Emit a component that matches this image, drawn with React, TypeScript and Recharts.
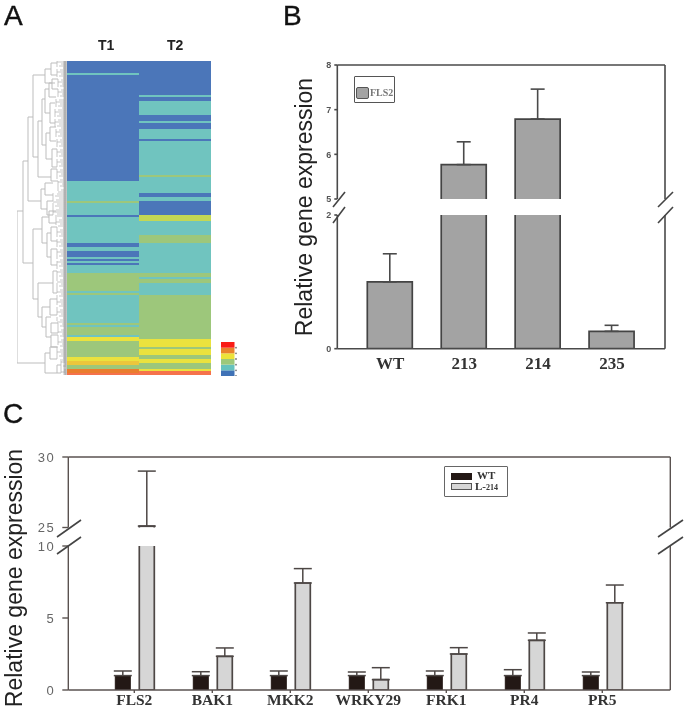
import React from "react";
import {
  Bar,
  BarChart,
  Cell,
  ErrorBar,
  Line,
  LineChart,
  XAxis,
  YAxis,
} from "recharts";

const SANS = '"Liberation Sans", Arial, sans-serif';
const SERIF = '"Liberation Serif", "Times New Roman", serif';

// ---------- Panel A: heat map ----------
const heatColors: Record<string, string> = {
  blue: "#4b76b9",
  teal: "#70c4bf",
  lime: "#c3d755",
  green: "#9dc77b",
  yellow: "#ebe23e",
  gold: "#ecc63c",
  orange: "#ea7d2e",
  coral: "#f5724c",
};
const heatScale = ["#3f72b6", "#66c2bd", "#9dc87a", "#ece23a", "#e9832c", "#f91c16"];
const heatScaleTicks = [0, 1, 2, 3, 4, 5];
const columns = ["T1", "T2"];
const t1Runs: [string, number][] = [
  ["blue", 6], ["teal", 1], ["blue", 53], ["teal", 10], ["green", 1], ["teal", 6], ["blue", 1],
  ["teal", 13], ["blue", 2], ["teal", 2], ["blue", 3], ["teal", 1], ["blue", 1], ["teal", 1],
  ["blue", 1], ["teal", 4], ["green", 9], ["teal", 1], ["green", 1], ["teal", 14], ["green", 1],
  ["teal", 1], ["green", 4], ["teal", 1], ["yellow", 2], ["green", 8], ["yellow", 2], ["gold", 2],
  ["green", 2], ["orange", 2], ["coral", 1],
];
const t2Runs: [string, number][] = [
  ["blue", 17], ["teal", 1], ["blue", 2], ["teal", 7], ["blue", 3], ["teal", 1], ["blue", 3],
  ["teal", 5], ["blue", 1], ["teal", 17], ["green", 1], ["teal", 8], ["blue", 2], ["teal", 2],
  ["blue", 7], ["lime", 3], ["teal", 7], ["green", 4], ["teal", 15], ["green", 2], ["teal", 1],
  ["green", 2], ["teal", 6], ["green", 22], ["yellow", 4], ["green", 1], ["yellow", 3],
  ["green", 2], ["yellow", 2], ["green", 3], ["yellow", 1], ["coral", 2],
];
const expandRuns = (runs: [string, number][]) =>
  runs.flatMap(([level, count]) => Array.from({ length: count }, () => level));
const t1Rows = expandRuns(t1Runs);
const t2Rows = expandRuns(t2Runs);
const heatRows = t1Rows.map((_, i) => ({ row: i, T1: 1, T2: 1 }));
const scaleRow = [{ key: "scale", s0: 1, s1: 1, s2: 1, s3: 1, s4: 1, s5: 1 }];

// Dendrogram: [depth, top row, bottom row, depth of top child, depth of bottom child]
const branches: number[][] = [
  [0, 75, 151, 6, 28], [6, 50, 101, 11, 16], [11, 28, 70, 16, 24], [16, 7, 48, 28, 21],
  [28, 4, 11, 34, 35], [34, 1, 7, 40, 40], [35, 9, 14, 41, 41],
  [21, 30, 58, 25, 34], [25, 19, 42, 28, 29], [28, 14, 26, 32, 33], [32, 11, 18, 38, 39],
  [33, 21, 31, 38, 38], [29, 36, 49, 33, 35], [33, 33, 40, 39, 39], [35, 44, 53, 40, 40],
  [34, 54, 60, 40, 41], [24, 64, 74, 28, 30], [28, 61, 67, 36, 36], [30, 70, 77, 36, 36],
  [16, 84, 119, 25, 21], [25, 78, 91, 32, 30], [32, 75, 81, 39, 39], [30, 86, 98, 34, 34],
  [34, 83, 90, 40, 40], [34, 94, 102, 40, 40],
  [21, 111, 128, 36, 25], [36, 105, 116, 40, 40], [25, 123, 133, 33, 29], [33, 119, 127, 40, 40],
  [29, 128, 138, 34, 34], [34, 131, 136, 41, 41], [34, 137, 143, 41, 41],
  [28, 146, 156, 33, 40], [33, 143, 149, 40, 40], [40, 152, 156, 44, 44],
];
// Leaf fans: [depth, first row, last row]
const fans: number[][] = [
  [40, 0, 3], [40, 4, 8], [41, 9, 13], [41, 14, 18], [39, 19, 23], [38, 24, 28], [38, 29, 33],
  [39, 34, 38], [40, 39, 43], [40, 44, 48], [40, 49, 53], [40, 54, 59], [41, 60, 65], [36, 66, 70],
  [36, 71, 77], [39, 78, 82], [40, 83, 88], [40, 89, 93], [40, 94, 99], [40, 100, 104],
  [40, 105, 110], [40, 111, 116], [40, 117, 122], [40, 123, 127], [40, 128, 130], [41, 131, 136],
  [41, 137, 142], [40, 143, 149], [44, 150, 156],
];
const stubSteps = [0, 4, 2, 6, 3];
const dendroPoints: { d: number; r: number | null }[] = [];
branches.forEach(([d, top, bot, dTop, dBot]) => {
  dendroPoints.push(
    { d: dTop, r: top }, { d, r: top }, { d, r: bot }, { d: dBot, r: bot }, { d: dBot, r: null },
  );
});
const leafPoints: { d: number; r: number | null }[] = [];
const tipPoints: { d: number; r: number | null }[] = [];
fans.forEach(([d, first, last]) => {
  leafPoints.push({ d, r: first }, { d, r: last }, { d, r: null });
  for (let row = first; row <= last; row += 1) {
    const start = d + stubSteps[row % stubSteps.length];
    leafPoints.push({ d: start, r: row + 0.5 }, { d: 49.5, r: row + 0.5 }, { d: 49.5, r: null });
    tipPoints.push({ d: 46.5, r: row + 0.5 }, { d: 49.8, r: row + 0.5 }, { d: 49.8, r: null });
  }
});

// ---------- Panel B ----------
const bLines = ["WT", "213", "214", "235"];
const bValues = [1.0, 5.77, 6.79, 0.26];
const bErrors = [0.42, 0.51, 0.67, 0.09];
const bUpperTicks = [5, 6, 7, 8];
const bLowerTicks = [0, 2];
const bUpperDomain: [number, number] = [5, 8];
const bLowerDomain: [number, number] = [0, 2];

// ---------- Panel C ----------
const cGenes = ["FLS2", "BAK1", "MKK2", "WRKY29", "FRK1", "PR4", "PR5"];
const cWT = [1.0, 1.0, 1.0, 1.0, 1.0, 1.0, 1.0];
const cWTErr = [0.32, 0.27, 0.32, 0.25, 0.32, 0.41, 0.25];
const cL214 = [25.1, 2.34, 7.43, 0.72, 2.5, 3.45, 6.06];
const cL214Err = [3.9, 0.58, 1.0, 0.83, 0.44, 0.51, 1.23];
const cUpperTicks = [25, 30];
const cLowerTicks = [0, 5, 10];
const cUpperDomain: [number, number] = [25, 30];
const cLowerDomain: [number, number] = [0, 10];

// Each panel of a broken axis only holds what falls inside its range.
const upperBar = (v: number, floor: number) => (v > floor ? [floor - 2, v] : null);
const upperErr = (v: number, e: number, floor: number) => (v > floor ? [0, e] : null);
const lowerErr = (v: number, e: number, ceil: number) => (v < ceil ? [0, e] : null);

const bUpperData = bLines.map((name, i) => ({
  name,
  value: upperBar(bValues[i], 5),
  err: upperErr(bValues[i], bErrors[i], 5),
}));
const bLowerData = bLines.map((name, i) => ({
  name,
  value: bValues[i],
  err: lowerErr(bValues[i], bErrors[i], 2),
}));
const cUpperData = cGenes.map((name, i) => ({
  name,
  wt: null,
  l214: upperBar(cL214[i], 25),
  l214Err: upperErr(cL214[i], cL214Err[i], 25),
}));
const cLowerData = cGenes.map((name, i) => ({
  name,
  wt: cWT[i],
  wtErr: [0, cWTErr[i]],
  l214: cL214[i],
  l214Err: lowerErr(cL214[i], cL214Err[i], 10),
}));

const abs = (left: number, top: number): React.CSSProperties => ({ position: "absolute", left, top });

const ScaleDot = (p: any) => <circle cx={p.x + 1} cy={p.y} r={0.9} fill="#777" />;

const Title = ({ x, y }: { x: number; y: number }) => (
  <div
    style={{
      ...abs(x, y),
      transform: "translate(-50%,-50%) rotate(-90deg)",
      whiteSpace: "nowrap",
      fontFamily: SANS,
      fontSize: 23,
      lineHeight: 1,
      color: "#222",
    }}
  >
    Relative gene expression
  </div>
);

const Letter = ({ x, y, t }: { x: number; y: number; t: string }) => (
  <div style={{ ...abs(x, y), fontFamily: SANS, fontSize: 28, color: "#111", WebkitTextStroke: "0.4px #111" }}>{t}</div>
);

const Slash = ({ x1, x2, y1, y2 }: { x1: number; x2: number; y1: number; y2: number }) => (
  <line x1={x1} x2={x2} y1={y1} y2={y2} stroke="#444" strokeWidth={1.6} />
);

const B_AXIS = "#4a4a4a";
const C_AXIS = "#5a5250";
const C_TICK = { fontFamily: SANS, fontSize: 13, fill: "#666", letterSpacing: 1.6 };
const B_TICK = { fontFamily: SANS, fontSize: 9, fontWeight: 700, fill: "#555" };

export default function App() {
  return (
    <div
      style={{
        position: "absolute",
        left: 0,
        top: 0,
        width: 685,
        height: 710,
        overflow: "hidden",
        background: "#fff",
        filter: "blur(0.5px)",
      }}
    >
      <Letter x={4} y={0} t="A" />
      <Letter x={283} y={0} t="B" />
      <Letter x={3} y={398} t="C" />

      {/* Panel A */}
      <div style={{ ...abs(98, 37), fontFamily: SANS, fontSize: 14, fontWeight: 700, color: "#222" }}>T1</div>
      <div style={{ ...abs(167, 37), fontFamily: SANS, fontSize: 14, fontWeight: 700, color: "#222" }}>T2</div>
      <div style={abs(17, 61)}>
        <LineChart width={50} height={314} data={leafPoints} margin={{ top: 0, right: 0, bottom: 0, left: 0 }}>
          <XAxis dataKey="d" type="number" domain={[0, 50]} hide />
          <YAxis type="number" domain={[0, 157]} reversed hide />
          <Line dataKey="r" stroke="#b0b0b0" strokeWidth={0.7} dot={false} isAnimationActive={false} />
        </LineChart>
      </div>
      <div style={abs(17, 61)}>
        <LineChart width={50} height={314} data={tipPoints} margin={{ top: 0, right: 0, bottom: 0, left: 0 }}>
          <XAxis dataKey="d" type="number" domain={[0, 50]} hide />
          <YAxis type="number" domain={[0, 157]} reversed hide />
          <Line dataKey="r" stroke="#808080" strokeWidth={1} dot={false} isAnimationActive={false} />
        </LineChart>
      </div>
      <div style={abs(17, 61)}>
        <LineChart width={50} height={314} data={dendroPoints} margin={{ top: 0, right: 0, bottom: 0, left: 0 }}>
          <XAxis dataKey="d" type="number" domain={[0, 50]} hide />
          <YAxis type="number" domain={[0, 157]} reversed hide />
          <Line dataKey="r" stroke="#bdbdbd" strokeWidth={1} dot={false} isAnimationActive={false} />
        </LineChart>
      </div>
      <div style={abs(67, 61)}>
        <BarChart
          layout="vertical"
          width={144}
          height={314}
          data={heatRows}
          barCategoryGap={0}
          margin={{ top: 0, right: 0, bottom: 0, left: 0 }}
        >
          <XAxis type="number" domain={[0, 2]} hide />
          <YAxis type="category" dataKey="row" hide />
          <Bar dataKey="T1" name={columns[0]} stackId="h" isAnimationActive={false}>
            {t1Rows.map((level, i) => (
              <Cell key={i} fill={heatColors[level]} />
            ))}
          </Bar>
          <Bar dataKey="T2" name={columns[1]} stackId="h" isAnimationActive={false}>
            {t2Rows.map((level, i) => (
              <Cell key={i} fill={heatColors[level]} />
            ))}
          </Bar>
        </BarChart>
      </div>
      <div style={abs(220, 342)}>
        <BarChart width={25} height={34} data={scaleRow} barSize={15} margin={{ top: 0, right: 0, bottom: 0, left: 0 }}>
          <XAxis dataKey="key" hide />
          <YAxis
            orientation="right"
            width={10}
            type="number"
            domain={[0, 6]}
            ticks={heatScaleTicks}
            interval={0}
            axisLine={false}
            tickLine={false}
            tickSize={0}
            tickMargin={0}
            tick={<ScaleDot />}
          />
          {heatScale.map((color, i) => (
            <Bar key={color} dataKey={`s${i}`} stackId="s" fill={color} isAnimationActive={false} />
          ))}
        </BarChart>
      </div>

      {/* Panel B */}
      <Title x={303.5} y={206.5} />
      <div style={abs(300, 60)}>
        <BarChart
          width={380}
          height={145}
          data={bUpperData}
          barSize={45}
          margin={{ top: 0, right: 0, bottom: 6, left: 0 }}
        >
          <XAxis
            dataKey="name"
            orientation="top"
            height={5}
            tick={false}
            tickLine={false}
            stroke={B_AXIS}
            strokeWidth={1.6}
            padding={{ left: 16, right: 16 }}
          />
          <YAxis
            width={37.3}
            domain={bUpperDomain}
            ticks={bUpperTicks}
            interval={0}
            allowDataOverflow
            stroke={B_AXIS}
            strokeWidth={1.6}
            tickSize={3}
            tickMargin={3}
            tick={B_TICK}
          />
          <YAxis
            yAxisId="r"
            orientation="right"
            width={15}
            domain={bUpperDomain}
            allowDataOverflow
            stroke={B_AXIS}
            strokeWidth={1.6}
            tick={false}
            tickLine={false}
          />
          <Bar dataKey="value" fill="#a3a3a3" stroke="#444" strokeWidth={1.7} isAnimationActive={false}>
            <ErrorBar dataKey="err" direction="y" width={7} stroke="#4a4a4a" strokeWidth={1.6} />
          </Bar>
        </BarChart>
      </div>
      <div style={abs(300, 210)}>
        <BarChart
          width={380}
          height={185}
          data={bLowerData}
          barSize={45}
          margin={{ top: 5, right: 0, bottom: 0, left: 0 }}
        >
          <XAxis
            dataKey="name"
            height={46.3}
            interval={0}
            stroke={B_AXIS}
            strokeWidth={1.6}
            tickLine={false}
            tickMargin={2}
            padding={{ left: 16, right: 16 }}
            tick={{ fontFamily: SERIF, fontSize: 17, fontWeight: 700, fill: "#333" }}
          />
          <YAxis
            width={37.3}
            domain={bLowerDomain}
            ticks={bLowerTicks}
            interval={0}
            allowDataOverflow
            stroke={B_AXIS}
            strokeWidth={1.6}
            tickSize={3}
            tickMargin={3}
            tick={B_TICK}
          />
          <YAxis
            yAxisId="r"
            orientation="right"
            width={15}
            domain={bLowerDomain}
            allowDataOverflow
            stroke={B_AXIS}
            strokeWidth={1.6}
            tick={false}
            tickLine={false}
          />
          <Bar dataKey="value" fill="#a3a3a3" stroke="#444" strokeWidth={1.7} isAnimationActive={false}>
            <ErrorBar dataKey="err" direction="y" width={7} stroke="#4a4a4a" strokeWidth={1.6} />
          </Bar>
        </BarChart>
      </div>
      <div
        style={{
          ...abs(354, 76),
          width: 41,
          height: 27,
          boxSizing: "border-box",
          border: "1.2px solid #555",
          borderRadius: 1,
          background: "#fff",
        }}
      >
        <div
          style={{
            ...abs(1, 10),
            width: 13,
            height: 12,
            boxSizing: "border-box",
            background: "#a3a3a3",
            border: "1.4px solid #555",
            borderRadius: 2,
          }}
        />
        <div
          style={{
            ...abs(15, 10),
            fontFamily: SERIF,
            fontSize: 10,
            fontWeight: 700,
            lineHeight: "12px",
            color: "#777",
          }}
        >
          FLS2
        </div>
      </div>

      {/* Panel C */}
      <Title x={14} y={578} />
      <div style={abs(30, 443.5)}>
        <BarChart
          width={650}
          height={96}
          data={cUpperData}
          barSize={15}
          barGap={9}
          margin={{ top: 8, right: 0, bottom: 12.5, left: 0 }}
        >
          <XAxis
            dataKey="name"
            orientation="top"
            height={5}
            tick={false}
            tickLine={false}
            stroke={C_AXIS}
            strokeWidth={1.4}
            padding={{ left: 27, right: 29 }}
          />
          <YAxis
            width={38.3}
            domain={cUpperDomain}
            ticks={cUpperTicks}
            interval={0}
            allowDataOverflow
            stroke={C_AXIS}
            strokeWidth={1.4}
            tickSize={6}
            tickMargin={7}
            tick={C_TICK}
          />
          <YAxis
            yAxisId="r"
            orientation="right"
            width={9.7}
            domain={cUpperDomain}
            allowDataOverflow
            stroke={C_AXIS}
            strokeWidth={1.4}
            tick={false}
            tickLine={false}
          />
          <Bar dataKey="wt" fill="#231815" stroke="#231815" isAnimationActive={false} />
          <Bar dataKey="l214" fill="#d6d6d6" stroke="#4d4745" strokeWidth={1.7} isAnimationActive={false}>
            <ErrorBar dataKey="l214Err" direction="y" width={9} stroke="#4d4745" strokeWidth={1.5} />
          </Bar>
        </BarChart>
      </div>
      <div style={abs(30, 532.7)}>
        <BarChart
          width={650}
          height={177.3}
          data={cLowerData}
          barSize={15}
          barGap={9}
          margin={{ top: 13, right: 0, bottom: 0, left: 0 }}
        >
          <XAxis
            dataKey="name"
            height={20.3}
            interval={0}
            stroke={C_AXIS}
            strokeWidth={1.4}
            tickSize={3}
            tickMargin={1}
            padding={{ left: 27, right: 29 }}
            tick={{ fontFamily: SERIF, fontSize: 15.5, fontWeight: 700, fill: "#333" }}
          />
          <YAxis
            width={38.3}
            domain={cLowerDomain}
            ticks={cLowerTicks}
            interval={0}
            allowDataOverflow
            stroke={C_AXIS}
            strokeWidth={1.4}
            tickSize={6}
            tickMargin={7}
            tick={C_TICK}
          />
          <YAxis
            yAxisId="r"
            orientation="right"
            width={9.7}
            domain={cLowerDomain}
            allowDataOverflow
            stroke={C_AXIS}
            strokeWidth={1.4}
            tick={false}
            tickLine={false}
          />
          <Bar dataKey="wt" fill="#231815" stroke="#231815" strokeWidth={1} isAnimationActive={false}>
            <ErrorBar dataKey="wtErr" direction="y" width={9} stroke="#4d4745" strokeWidth={1.5} />
          </Bar>
          <Bar dataKey="l214" fill="#d6d6d6" stroke="#4d4745" strokeWidth={1.7} isAnimationActive={false}>
            <ErrorBar dataKey="l214Err" direction="y" width={9} stroke="#4d4745" strokeWidth={1.5} />
          </Bar>
        </BarChart>
      </div>
      <div
        style={{
          ...abs(444, 466),
          width: 64,
          height: 31,
          boxSizing: "border-box",
          border: "1.2px solid #666",
          borderRadius: 1,
          background: "#fff",
        }}
      >
        <div style={{ ...abs(6, 6), width: 21, height: 7, background: "#231815" }} />
        <div
          style={{
            ...abs(6, 16),
            width: 21,
            height: 7,
            boxSizing: "border-box",
            background: "#d6d6d6",
            border: "1px solid #555",
          }}
        />
        <div style={{ ...abs(32, 3), fontFamily: SERIF, fontSize: 11, fontWeight: 700, lineHeight: "11px", color: "#333" }}>
          WT
        </div>
        <div style={{ ...abs(30, 14), fontFamily: SERIF, fontSize: 11, fontWeight: 700, lineHeight: "11px", color: "#333", whiteSpace: "nowrap" }}>
          L-<span style={{ fontSize: 8 }}>214</span>
        </div>
      </div>

      {/* Axis break marks */}
      <svg width={685} height={710} style={{ ...abs(0, 0), pointerEvents: "none" }}>
        <Slash x1={333} x2={345} y1={207} y2={192} />
        <Slash x1={333} x2={345} y1={223} y2={207} />
        <Slash x1={658} x2={673} y1={207} y2={192} />
        <Slash x1={658} x2={673} y1={223} y2={207} />
        <Slash x1={57} x2={81} y1={537} y2={520} />
        <Slash x1={57} x2={81} y1={554} y2={537} />
        <Slash x1={658} x2={683} y1={537} y2={520} />
        <Slash x1={658} x2={683} y1={554} y2={537} />
      </svg>
    </div>
  );
}
